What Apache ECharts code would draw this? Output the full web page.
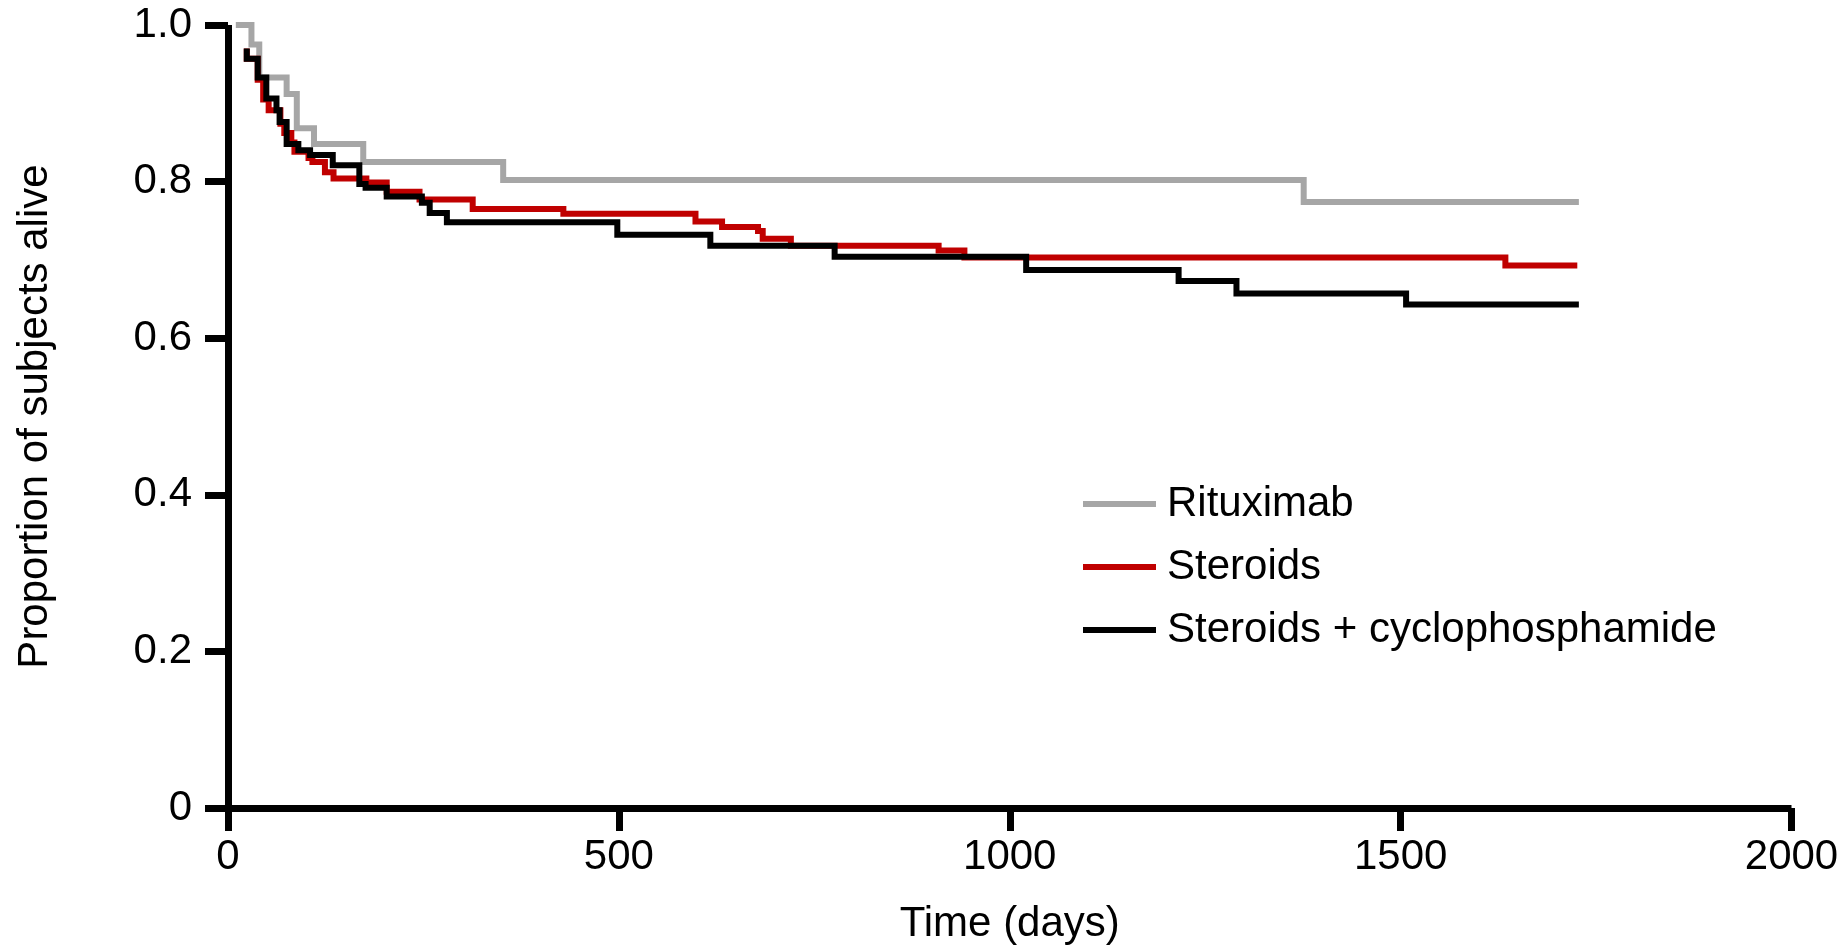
<!DOCTYPE html>
<html>
<head>
<meta charset="utf-8">
<script src="https://cdn.jsdelivr.net/npm/echarts@6/dist/echarts.min.js"></script>
<style>
  html, body { margin: 0; padding: 0; background: #ffffff; }
  #chart { width: 1847px; height: 950px; }
</style>
</head>
<body>
<div id="chart"></div>
<script>
// Kaplan-Meier survival by treatment arm: each arm is a list of event times (days)
// and the survival proportion right after that time.
const seriesNames = ['Rituximab', 'Steroids', 'Steroids + cyclophosphamide'];
const seriesColors = ['#a6a6a6', '#c00000', '#000000'];

const rituximabDays = [10, 30, 40, 75, 88, 110, 173, 352, 1376, 1728];
const rituximabSurvival = [1.0, 0.975, 0.933, 0.912, 0.868, 0.848, 0.825, 0.802, 0.774, 0.774];

const steroidsDays = [24, 24, 38, 45, 52, 67, 72, 81, 85, 103, 108, 124, 135, 177, 203, 245, 313, 429, 598, 632, 678, 684, 720, 909, 942, 1634, 1726];
const steroidsSurvival = [0.970, 0.957, 0.930, 0.905, 0.891, 0.874, 0.862, 0.850, 0.838, 0.830, 0.825, 0.812, 0.804, 0.799, 0.787, 0.777, 0.765, 0.759, 0.749, 0.742, 0.737, 0.727, 0.718, 0.712, 0.703, 0.693, 0.693];

const comboDays = [24, 24, 38, 49, 62, 66, 75, 90, 105, 134, 168, 176, 203, 248, 258, 280, 498, 617, 776, 1021, 1216, 1290, 1507, 1728];
const comboSurvival = [0.970, 0.957, 0.933, 0.906, 0.891, 0.876, 0.848, 0.840, 0.834, 0.821, 0.797, 0.792, 0.781, 0.773, 0.760, 0.748, 0.732, 0.718, 0.704, 0.687, 0.673, 0.657, 0.643, 0.643];

const xTicks = [0, 500, 1000, 1500, 2000];
const yTicks = [0, 0.2, 0.4, 0.6, 0.8, 1.0];

const FONT = '"Liberation Sans", Arial, Helvetica, sans-serif';
const TEXT_SIZE = 42;

function pairs(days, surv) {
  return days.map((d, i) => [d, surv[i]]);
}

const arms = [
  pairs(rituximabDays, rituximabSurvival),
  pairs(steroidsDays, steroidsSurvival),
  pairs(comboDays, comboSurvival)
];

const chart = echarts.init(document.getElementById('chart'), null, { renderer: 'canvas' });

const axisLine = { show: true, onZero: false, lineStyle: { color: '#000', width: 7, cap: 'butt' } };
const axisTick = { show: true, inside: false, length: 23, lineStyle: { color: '#000', width: 7 } };

chart.setOption({
  animation: false,
  backgroundColor: '#ffffff',
  textStyle: { fontFamily: FONT },
  grid: { left: 228, right: 55.5, top: 25, bottom: 136, containLabel: false },
  xAxis: {
    type: 'value',
    min: xTicks[0],
    max: xTicks[xTicks.length - 1],
    interval: xTicks[1] - xTicks[0],
    name: 'Time (days)',
    nameLocation: 'middle',
    nameGap: 95,
    nameTextStyle: { color: '#000', fontSize: TEXT_SIZE, fontFamily: FONT },
    axisLine: axisLine,
    axisTick: axisTick,
    splitLine: { show: false },
    axisLabel: {
      color: '#000', fontSize: TEXT_SIZE, fontFamily: FONT, margin: 28,
      formatter: v => String(v)
    }
  },
  yAxis: {
    type: 'value',
    min: yTicks[0],
    max: yTicks[yTicks.length - 1],
    interval: yTicks[1] - yTicks[0],
    name: 'Proportion of subjects alive',
    nameLocation: 'middle',
    nameGap: 172,
    nameRotate: 90,
    nameTextStyle: { color: '#000', fontSize: TEXT_SIZE, fontFamily: FONT },
    axisLine: axisLine,
    axisTick: axisTick,
    splitLine: { show: false },
    axisLabel: {
      color: '#000', fontSize: TEXT_SIZE, fontFamily: FONT, margin: 36,
      formatter: v => (v === 0 ? '0' : v.toFixed(1))
    }
  },
  legend: {
    orient: 'vertical',
    left: 1078,
    top: 478,
    itemWidth: 73,
    itemHeight: 6,
    itemGap: 21,
    icon: 'rect',
    textStyle: { color: '#000', fontSize: TEXT_SIZE, fontFamily: FONT, padding: [0, 0, 0, 6] },
    data: seriesNames
  },
  series: arms.map((data, i) => ({
    name: seriesNames[i],
    type: 'line',
    step: 'end',
    data: data,
    symbol: 'none',
    showSymbol: false,
    clip: false,
    color: seriesColors[i],
    itemStyle: { color: seriesColors[i] },
    lineStyle: { color: seriesColors[i], width: 6, cap: 'butt', join: 'miter' },
    z: 2 + i
  }))
});
</script>
</body>
</html>
